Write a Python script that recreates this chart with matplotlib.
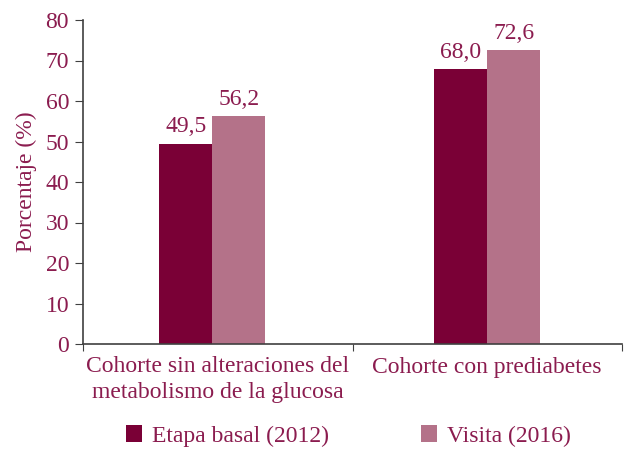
import matplotlib.pyplot as plt
import numpy as np

categorias = ["Cohorte sin alteraciones del\nmetabolismo de la glucosa",
              "Cohorte con prediabetes"]
basal = [49.5, 68.0]
visita = [56.2, 72.6]
series = ["Etapa basal (2012)", "Visita (2016)"]

texto = '#8b1c4f'
oscuro = '#7a0036'
claro = '#b47289'
eje = '#404040'

plt.rcParams['font.family'] = ['Liberation Serif', 'DejaVu Serif']

fig = plt.figure(figsize=(6.24, 4.49), dpi=100)
ax = fig.add_axes([83 / 624, 1 - 344 / 449, (622 - 83) / 624, (344 - 20) / 449])

x = np.arange(len(categorias))
centros = x - np.array([0.02, 0.0])
w = 0.197
b1 = ax.bar(centros - w / 2, basal, w, color=oscuro, label=series[0])
b2 = ax.bar(centros + w / 2, visita, w, color=claro, label=series[1])

for barras in (b1, b2):
    for r in barras:
        ax.text(r.get_x() + r.get_width() / 2, r.get_height() + 1.5,
                f"{r.get_height():.1f}".replace('.', ','),
                ha='center', va='bottom', color=texto, fontsize=17)

ax.set_xlim(-0.5, 1.5)
ax.set_ylim(0, 80)
ax.set_yticks(range(0, 81, 10))
ax.set_xticks([-0.5, 0.5, 1.5])
ax.set_xticklabels([])
ax.set_xticks(x, minor=True)
ax.set_xticklabels(categorias, minor=True, fontsize=17, color=texto,
                   linespacing=1.3)
ax.tick_params(axis='x', which='minor', length=0, pad=9)
ax.tick_params(axis='x', which='major', length=5, color=eje, direction='out')
ax.tick_params(axis='y', length=6, color=eje, labelcolor=texto,
               labelsize=17, pad=4)

for s in ['top', 'right']:
    ax.spines[s].set_visible(False)
for s in ['left', 'bottom']:
    ax.spines[s].set_color(eje)
    ax.spines[s].set_linewidth(1.2)

ax.set_ylabel("Porcentaje (%)", color=texto, fontsize=17, labelpad=6)

fig.legend(loc='lower center', bbox_to_anchor=(0.558, -0.042), ncol=2,
           frameon=False, fontsize=17, labelcolor=texto, handlelength=0.7,
           handleheight=0.7, handletextpad=0.4, columnspacing=3.9)

fig.savefig("out.png", dpi=100)
